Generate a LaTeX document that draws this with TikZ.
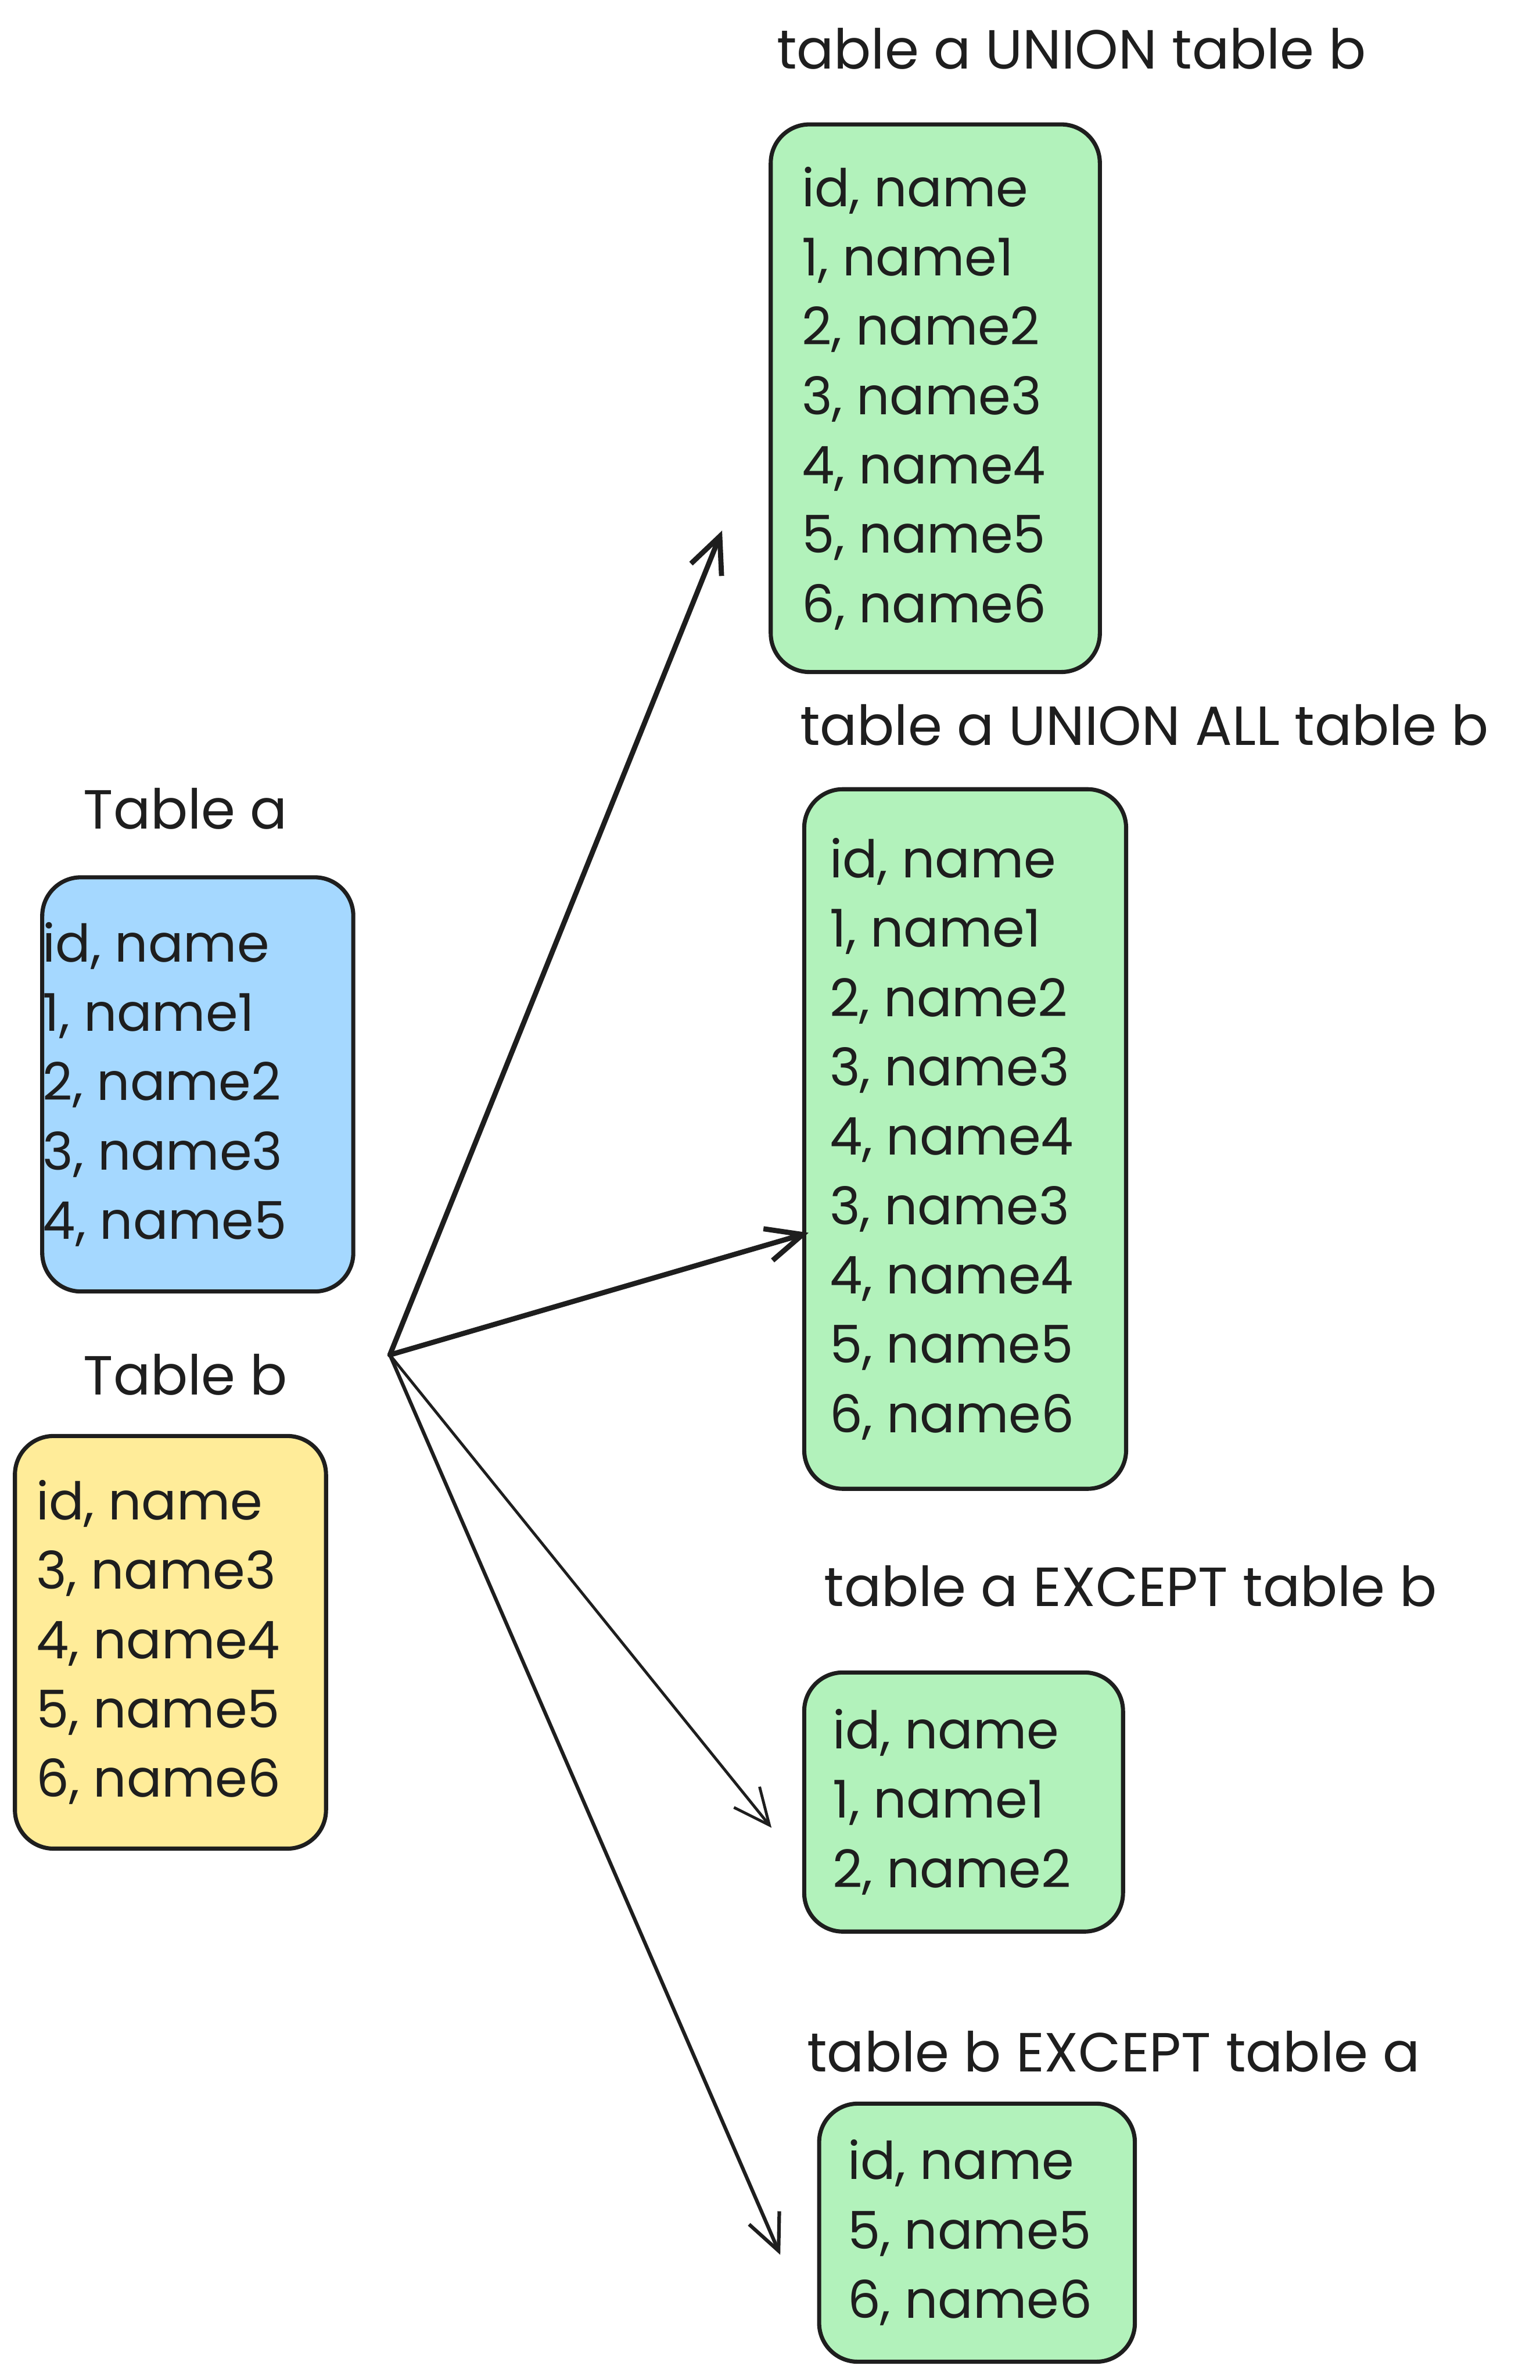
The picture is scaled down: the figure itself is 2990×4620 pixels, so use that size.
\documentclass[tikz,border=0pt]{standalone}
\usepackage{fontspec}
\setmainfont{Poppins}
\usetikzlibrary{positioning,arrows.meta}
\definecolor{ink}{HTML}{1E1E1E}
\definecolor{tblblue}{HTML}{A5D8FF}
\definecolor{tblyellow}{HTML}{FFEC99}
\definecolor{tblgreen}{HTML}{B2F2BB}
\begin{document}
\begin{tikzpicture}[x=1pt,y=-1pt]
  \tikzstyle{every node}=[font=\fontsize{101}{134.6}\selectfont,text=ink]
  \tikzstyle{tbl}=[draw=ink,line width=8pt,rounded corners=75pt,inner sep=0pt]
  \tikzstyle{rows}=[align=left,inner sep=0pt]
  \tikzstyle{lbl}=[anchor=west,inner sep=0pt,font=\fontsize{107}{134.6}\selectfont]
  \tikzstyle{arr}=[draw=ink,line width=10pt,line cap=round,line join=round,
    -{Straight Barb[length=70pt,width=64pt]}]
  \tikzstyle{thinarr}=[arr,line width=5.5pt]
  \useasboundingbox (0,0) rectangle (2990,4620);
  % source tables
  \node[lbl] (alabel) at (162,1570) {Table a};
  \node[tbl,fill=tblblue,minimum width=604,minimum height=804] (ta) at (384,2105) {};
  \node[rows,right=5pt of ta.west] (tatxt) {id, name\\1, name1\\2, name2\\3, name3\\4, name5};
  \node[lbl] (blabel) at (162,2669) {Table b};
  \node[tbl,fill=tblyellow,minimum width=604,minimum height=801] (tb) at (331,3188) {};
  \node[rows,right=45pt of tb.west] (tbtxt) {id, name\\3, name3\\4, name4\\5, name5\\6, name6};
  % results
  \node[lbl] (ulabel) at (1508,94) {table a UNION table b};
  \node[tbl,fill=tblgreen,minimum width=639,minimum height=1063] (un) at (1816,773) {};
  \node[rows,right=64pt of un.west] (untxt) {id, name\\1, name1\\2, name2\\3, name3\\4, name4\\5, name5\\6, name6};
  \node[lbl] (ualabel) at (1553,1408) {table a UNION ALL table b};
  \node[tbl,fill=tblgreen,minimum width=625,minimum height=1358] (ua) at (1874,2211) {};
  \node[rows,right=53pt of ua.west] (uatxt) {id, name\\1, name1\\2, name2\\3, name3\\4, name4\\3, name3\\4, name4\\5, name5\\6, name6};
  \node[lbl] (exlabel) at (1600,3079) {table a EXCEPT table b};
  \node[tbl,fill=tblgreen,minimum width=619,minimum height=503] (ex) at (1871,3498) {};
  \node[rows,right=59pt of ex.west] (extxt) {id, name\\1, name1\\2, name2};
  \node[lbl] (eblabel) at (1567,3983) {table b EXCEPT table a};
  \node[tbl,fill=tblgreen,minimum width=613,minimum height=501] (eb) at (1897,4334) {};
  \node[rows,right=59pt of eb.west] (ebtxt) {id, name\\5, name5\\6, name6};
  % arrows
  \coordinate (src) at (757,2630);
  \coordinate (tun) at (1402,1030);
  \coordinate (tua) at (1570,2393);
  \coordinate (tex) at (1498,3548);
  \coordinate (teb) at (1515,4377);
  \draw[arr] (src) -- (tun);
  \draw[arr] (src) -- (tua);
  \draw[thinarr] (src) -- (tex);
  \draw[thinarr,line width=7pt] (src) -- (teb);
\end{tikzpicture}
\end{document}
